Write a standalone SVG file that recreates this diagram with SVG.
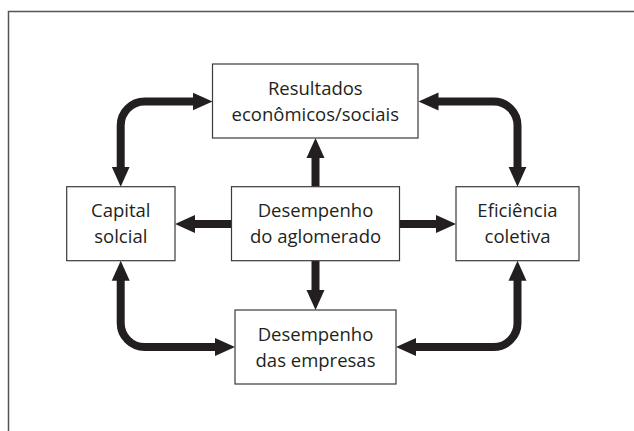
<svg xmlns="http://www.w3.org/2000/svg" width="634" height="431" viewBox="0 0 634 431">
<defs>
<style>
.frame{fill:none;stroke:#555;stroke-width:1.5}
.box{fill:#fff;stroke:#3a3a3a;stroke-width:1.2}
.lbl{font-family:"Open Sans","Noto Sans","Liberation Sans",sans-serif;font-size:18.5px;fill:#231f20;text-anchor:middle}
.con{fill:none;stroke:#231f20;stroke-width:8;stroke-linecap:butt;stroke-linejoin:round}
.two{marker-start:url(#ah);marker-end:url(#ah)}
.one{marker-end:url(#ah)}
</style>
<marker id="ah" markerUnits="userSpaceOnUse" markerWidth="22" markerHeight="20" viewBox="0 -10 22 20" refX="1" refY="0" orient="auto-start-reverse">
<path d="M0,-9 L20,0 L0,9 Z" fill="#231f20"/>
</marker>
</defs>
<rect width="634" height="431" fill="#fff"/>
<path class="frame" d="M8.5,431 L8.5,11.5 L634,11.5"/>
<g id="connectors">
<path class="con two" d="M120.7,167.7 L120.7,125.5 A24,24 0 0 1 144.7,101.5 L193.5,101.5"/>
<path class="con two" d="M437.5,101.5 L493.5,101.5 A24,24 0 0 1 517.5,125.5 L517.5,167.7"/>
<path class="con two" d="M120.7,279.7 L120.7,323 A24,24 0 0 0 144.7,347 L216,347"/>
<path class="con two" d="M415,347 L493.5,347 A24,24 0 0 0 517.5,323 L517.5,279.7"/>
<path class="con one" d="M315.5,186.7 L315.5,157"/>
<path class="con one" d="M315.5,260.7 L315.5,291"/>
<path class="con one" d="M231.5,224 L194,224"/>
<path class="con one" d="M399.5,224 L437,224"/>
</g>
<g id="resultados">
<rect class="box" x="212.5" y="64" width="205.5" height="74"/>
<text class="lbl" x="315.3" y="94.5">Resultados</text>
<text class="lbl" x="315.3" y="120.5">econômicos/sociais</text>
</g>
<g id="capital">
<rect class="box" x="66.7" y="186.7" width="108.3" height="74"/>
<text class="lbl" x="120.8" y="217.2">Capital</text>
<text class="lbl" x="120.8" y="243.2">solcial</text>
</g>
<g id="desempenho-aglomerado">
<rect class="box" x="231.5" y="186.7" width="168" height="74"/>
<text class="lbl" x="315.5" y="217.2">Desempenho</text>
<text class="lbl" x="315.5" y="243.2">do aglomerado</text>
</g>
<g id="eficiencia">
<rect class="box" x="456" y="186.7" width="123" height="74"/>
<text class="lbl" x="517.5" y="217.2">Eficiência</text>
<text class="lbl" x="517.5" y="243.2">coletiva</text>
</g>
<g id="desempenho-empresas">
<rect class="box" x="235" y="310" width="161" height="74"/>
<text class="lbl" x="315.5" y="340.5">Desempenho</text>
<text class="lbl" x="315.5" y="366.5">das empresas</text>
</g>
</svg>
